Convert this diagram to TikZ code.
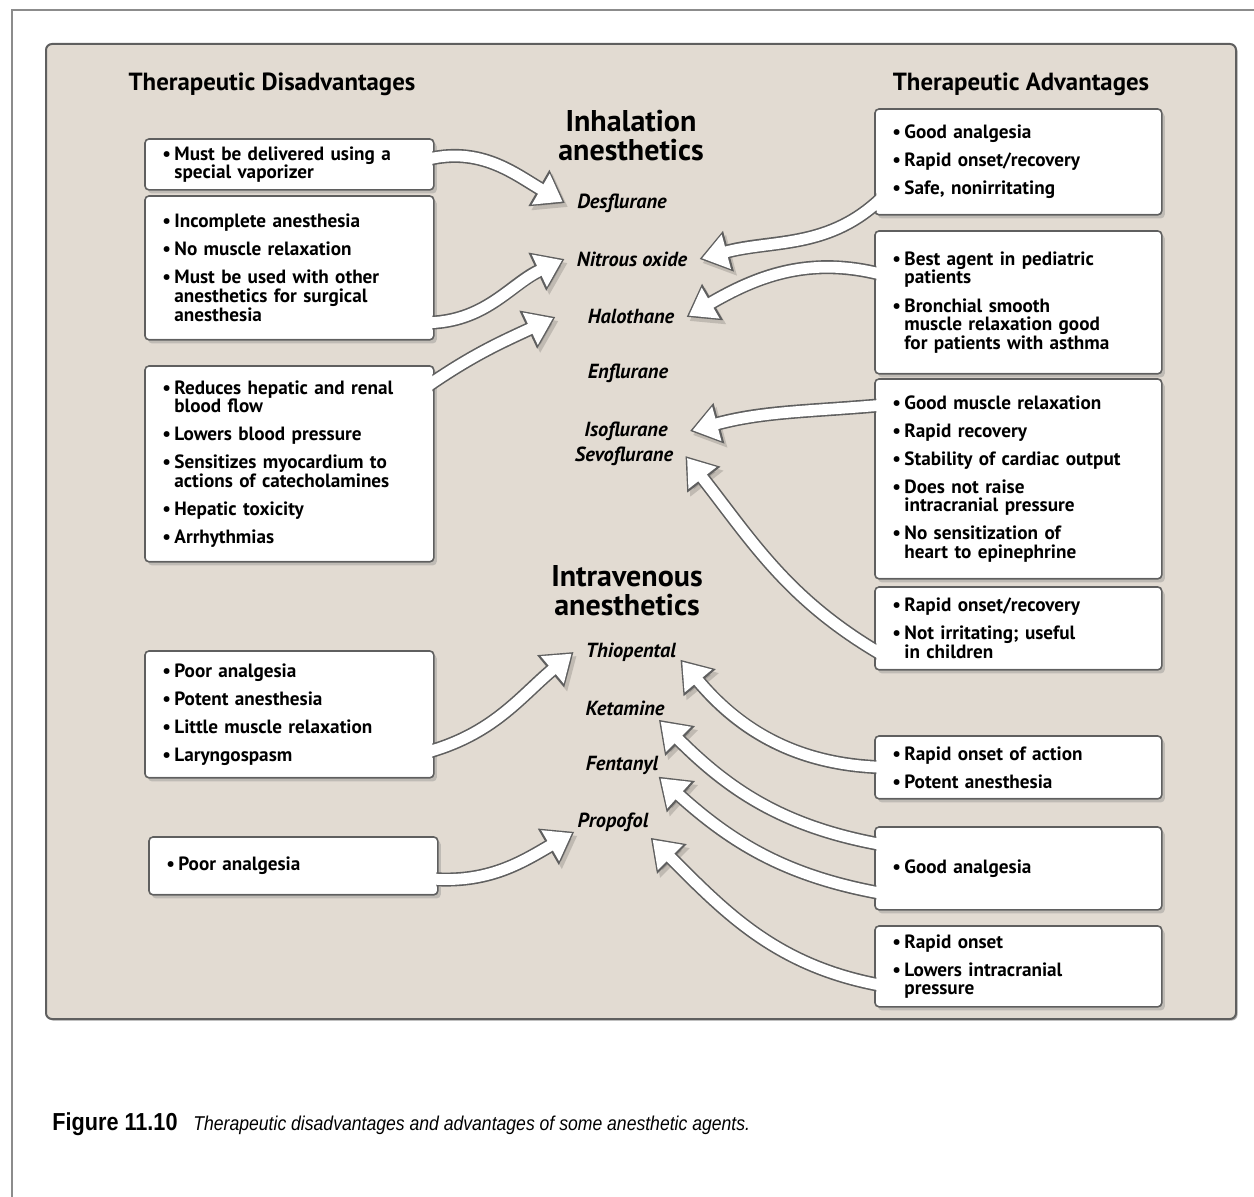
\documentclass[tikz,border=0pt]{standalone}
\usepackage{fontspec}
\setmainfont{PT Sans}
\newfontfamily\capfont[FakeStretch=0.88]{Liberation Sans}
\usetikzlibrary{arrows.meta,shadows}
\definecolor{panel}{RGB}{226,219,210}
\definecolor{rim}{RGB}{95,95,95}
\definecolor{pagerule}{RGB}{140,140,140}
\pgfdeclarelayer{back}
\pgfdeclarelayer{mid}
\pgfsetlayers{back,mid,main}
\newcommand{\bline}[1]{\hangindent=6pt\hangafter=1\noindent\makebox[6pt][l]{\textbullet}#1\par}
\newcommand{\bitem}[1]{\vspace{4.7pt}\bline{#1}}
\begin{document}
\begin{tikzpicture}[x=0.5pt, y=-0.5pt,
  every node/.style={inner sep=0pt},
  head/.style={font=\fontsize{12.4}{15}\selectfont\bfseries, align=center},
  midhead/.style={font=\fontsize{15}{14.5}\selectfont\bfseries, align=center},
  drug/.style={font=\fontsize{10.2}{12}\selectfont\bfseries\itshape, inner xsep=6pt, inner ysep=2pt},
  card/.style={anchor=north west, fill=white, rounded corners=1.5pt, inner xsep=8pt, inner ysep=3pt,
    align=left, font=\fontsize{9.6}{9.3}\selectfont\bfseries},
  con/.style={card, text width=127pt},
  pro/.style={card, text width=126pt},
  frame/.style={draw=rim, fill=white, line width=0.8pt, rounded corners=2pt,
    drop shadow={opacity=0.35, shadow xshift=1.5pt, shadow yshift=-1.8pt}},
  callout/.style={draw=rim, line width=7pt, -{Triangle[length=15pt,width=20pt]},
    preaction={draw=black, opacity=0.15, transform canvas={shift={(1.5pt,-2pt)}}},
    postaction={draw=white, line width=5.4pt, shorten >=1.3pt, -{Triangle[length=12.6pt,width=17pt]}}}
]
\useasboundingbox (0,0) rectangle (1254,1197);
\draw[pagerule, line width=1.2pt] (12,1197) -- (12,10) -- (1254,10);

% headings and drugs
\node[head] (disadv) at (272,84) {Therapeutic Disadvantages};
\node[head] (adv) at (1021,84) {Therapeutic Advantages};
\node[midhead] (inhal) at (631,136) {Inhalation\\anesthetics};
\node[midhead] (intrav) at (627,591) {Intravenous\\anesthetics};
\node[drug] (desf) at (622,203) {Desflurane};
\node[drug] (nitro) at (632,259) {Nitrous oxide};
\node[drug] (halo) at (631,317) {Halothane};
\node[drug] (enfl) at (628,373) {Enflurane};
\node[drug] (iso) at (626,431) {Isoflurane};
\node[drug] (sevo) at (624,456) {Sevoflurane};
\node[drug] (thio) at (631,652) {Thiopental};
\node[drug] (keta) at (625,708) {Ketamine};
\node[drug] (fent) at (622,765) {Fentanyl};
\node[drug] (prop) at (613,822) {Propofol};

% disadvantages
\node[con, minimum height=23pt] (vapor) at (146,140) {\bline{Must be delivered using a\newline special vaporizer}};
\node[con, minimum height=70.5pt] (incomp) at (146,197) {\bline{Incomplete anesthesia}\bitem{No muscle relaxation}\bitem{Must be used with other\newline anesthetics for surgical\newline anesthesia}};
\node[con, minimum height=96.5pt] (hepat) at (146,367) {\bline{Reduces hepatic and renal\newline blood flow}\bitem{Lowers blood pressure}\bitem{Sensitizes myocardium to\newline actions of catecholamines}\bitem{Hepatic toxicity}\bitem{Arrhythmias}};
\node[con, minimum height=62pt] (thiocon) at (146,652) {\bline{Poor analgesia}\bitem{Potent anesthesia}\bitem{Little muscle relaxation}\bitem{Laryngospasm}};
\node[con, minimum height=27.5pt] (propcon) at (150,838) {\bline{Poor analgesia}};

% advantages
\node[pro, minimum height=51.5pt] (nitropro) at (876,110) {\bline{Good analgesia}\bitem{Rapid onset/recovery}\bitem{Safe, nonirritating}};
\node[pro, minimum height=70pt] (halopro) at (876,232) {\bline{Best agent in pediatric\newline patients}\bitem{Bronchial smooth\newline muscle relaxation good\newline for patients with asthma}\vspace{7pt}};
\node[pro, minimum height=98.5pt] (isopro) at (876,380) {\bline{Good muscle relaxation}\bitem{Rapid recovery}\bitem{Stability of cardiac output}\bitem{Does not raise\newline intracranial pressure}\bitem{No sensitization of\newline heart to epinephrine}};
\node[pro, minimum height=40pt] (sevopro) at (876,588) {\bline{Rapid onset/recovery}\bitem{Not irritating; useful\newline in children}};
\node[pro, minimum height=30pt] (thiopro) at (876,737) {\bline{Rapid onset of action}\bitem{Potent anesthesia}};
\node[pro, minimum height=40pt] (ketapro) at (876,828) {\bline{Good analgesia}};
\node[pro, minimum height=39pt] (propro) at (876,927) {\bline{Rapid onset}\bitem{Lowers intracranial\newline pressure}};

\begin{pgfonlayer}{back}
  \draw[fill=panel, draw=rim, line width=1pt, rounded corners=3pt,
    drop shadow={opacity=0.6, shadow xshift=0.8pt, shadow yshift=-0.8pt}] (46,44) rectangle (1236,1019);
  \foreach \b in {vapor,incomp,hepat,thiocon,propcon,nitropro,halopro,isopro,sevopro,thiopro,ketapro,propro}
    \draw[frame] ([shift={(-1,-1)}]\b.north west) rectangle ([shift={(1,1)}]\b.south east);
\end{pgfonlayer}

\begin{pgfonlayer}{mid}
  \draw[callout] ([shift={(-8,20)}]vapor.north east) to[out=15, in=150] (desf.west);
  \draw[callout] ([shift={(-8,-16)}]incomp.south east) to[out=0, in=205] (nitro.west);
  \draw[callout] ([shift={(-8,21)}]hepat.north east) to[out=35, in=205] ([xshift=-10]halo.west);
  \draw[callout] ([shift={(-8,-24)}]thiocon.south east) to[out=15, in=220] (thio.west);
  \draw[callout] ([shift={(-8,-15)}]propcon.south east) to[out=-5, in=210] ([shift={(9,-4)}]prop.south west);
  \draw[callout] ([shift={(8,-18)}]nitropro.south west) to[out=225, in=15] (nitro.east);
  \draw[callout] ([shift={(8,43)}]halopro.north west) to[out=165, in=30] (halo.east);
  \draw[callout] ([shift={(8,25)}]isopro.north west) to[out=185, in=15] ([xshift=5]iso.east);
  \draw[callout] ([shift={(8,-13)}]sevopro.south west) to[out=150, in=-52] (sevo.east);
  \draw[callout] ([xshift=8]thiopro.west) to[out=180, in=-50] ([shift={(-8,-6)}]thio.south east);
  \draw[callout] ([shift={(8,17)}]ketapro.north west) to[out=170, in=-45] ([shift={(-18,0)}]keta.south east);
  \draw[callout] ([shift={(8,-15)}]ketapro.south west) to[out=170, in=-42] ([shift={(-12,-2)}]fent.south east);
  \draw[callout] ([shift={(8,-20)}]propro.south west) to[out=170, in=-45] ([shift={(-10,2)}]prop.south east);
\end{pgfonlayer}

% caption
\node[anchor=base west, font=\capfont\fontsize{12.3}{13}\selectfont\bfseries] (fignum) at (52,1130) {Figure 11.10};
\node[anchor=base west, font=\capfont\fontsize{10}{12}\selectfont\itshape] (figcap) at (193,1130) {Therapeutic disadvantages and advantages of some anesthetic agents.};
\end{tikzpicture}
\end{document}
